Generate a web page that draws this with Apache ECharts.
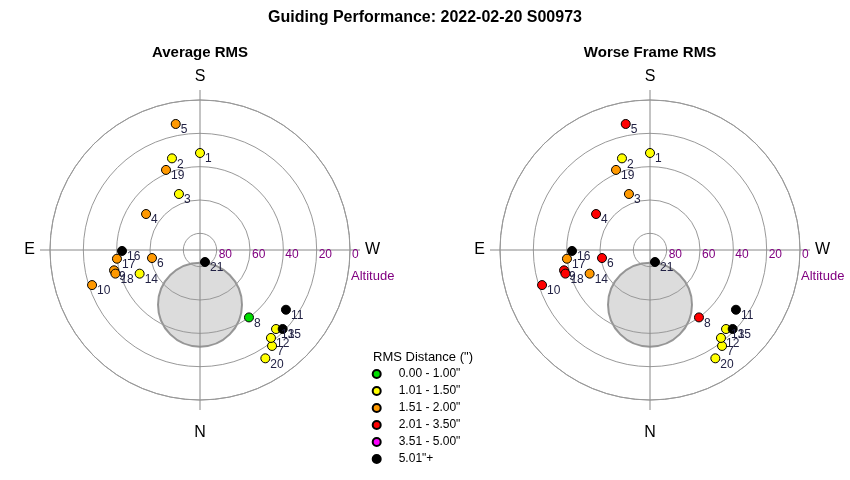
<!DOCTYPE html>
<html>
<head>
<meta charset="utf-8">
<script src="https://cdn.jsdelivr.net/npm/echarts@6/dist/echarts.min.js"></script>
<style>
html,body{margin:0;padding:0;background:#fff;}
#chart{width:850px;height:480px;}
</style>
</head>
<body>
<div id="chart"></div>
<script>
// ---- data ----
const frameIds = [1,2,3,4,5,6,7,8,9,10,11,12,13,14,15,16,17,18,19,20,21];
const altitude = [31.8,32.5,54.1,51.1,13.0,60.8,18.0,40.0,37.0,21.9,27.2,22.2,24.2,51.1,21.4,43.2,39.9,37.3,37.8,14.1,82.2];
const azimuth  = [180.0,163.0,159.4,123.7,169.1,80.5,323.1,324.0,76.7,72.0,304.8,321.1,316.1,68.6,313.7,89.3,84.0,74.4,157.0,328.9,337.4];
// RMS class index per frame (0..5) for each panel
const avgRmsClass   = [1,1,1,2,2,2,1,0,2,2,5,1,1,1,5,5,2,2,2,1,5];
const worstRmsClass = [1,1,2,3,3,3,1,3,3,3,5,1,1,2,5,5,2,3,2,1,5];
const rmsLabels = ['0.00 - 1.00"','1.01 - 1.50"','1.51 - 2.00"','2.01 - 3.50"','3.51 - 5.00"','5.01"+'];
const rmsColors = ['#00dd00','#ffff00','#ff9900','#ff0000','#ff00ff','#000000'];
const panelTitles = ['Average RMS','Worse Frame RMS'];
const altitudeTicks = [0,20,40,60,80];
const compass = {0:'W',90:'N',180:'E',270:'S'};
// shaded exclusion disc (altitude / azimuth of its centre)
const discAlt = 57.2, discAz = 0;

// ---- build ----
const centers = [[200,250],[650,250]];
const toAngle = az => (az + 90) % 360;

const polar = [], angleAxis = [], radiusAxis = [], series = [];
centers.forEach((c, p) => {
  polar.push({center: c, radius: 150});
  angleAxis.push({
    polarIndex: p, type: 'value', min: 0, max: 360, interval: 90,
    startAngle: 0, clockwise: true,
    axisLine: {show: true, lineStyle: {color: '#999', width: 1}},
    axisTick: {show: true, length: 10, inside: false, lineStyle: {color: '#888'}},
    splitLine: {show: true, lineStyle: {color: '#888', width: 1}},
    axisLabel: {
      show: true, margin: 15, fontSize: 16, color: '#000', fontFamily: 'Liberation Sans',
      formatter: v => v === 90 ? '{n|N}' : (v === 360 ? '' : (compass[v] || '')),
      rich: {n: {fontSize: 16, color: '#000', fontFamily: 'Liberation Sans', lineHeight: 36}}
    }
  });
  radiusAxis.push({
    polarIndex: p, type: 'value', min: 0, max: 90, interval: 20, inverse: true,
    axisLine: {show: false}, axisTick: {show: false},
    splitLine: {show: true, lineStyle: {color: '#999', width: 1}},
    axisLabel: {
      show: true, inside: true, margin: 1, align: 'left', verticalAlign: 'top',
      padding: [0,0,0,2], fontSize: 12, color: '#800080', fontFamily: 'Liberation Sans',
      formatter: v => altitudeTicks.indexOf(v) >= 0 ? String(v) : ''
    }
  });
  series.push({
    type: 'scatter', coordinateSystem: 'polar', polarIndex: p, z: -1, silent: true,
    symbol: 'circle', symbolSize: 84,
    itemStyle: {color: '#d3d3d3', borderColor: '#808080', borderWidth: 2},
    data: [[discAlt, toAngle(discAz)]]
  });
  const cls = p === 0 ? avgRmsClass : worstRmsClass;
  rmsLabels.forEach((name, k) => {
    const data = [];
    frameIds.forEach((id, i) => {
      if (cls[i] === k) data.push({name: String(id), value: [altitude[i], toAngle(azimuth[i])]});
    });
    series.push({
      type: 'scatter', name: name, coordinateSystem: 'polar', polarIndex: p,
      symbol: 'circle', symbolSize: 9,
      itemStyle: {color: rmsColors[k], borderColor: '#000', borderWidth: 1, opacity: 1},
      label: {show: true, formatter: '{b}', position: [10, 5], fontSize: 12,
              color: '#222244', fontFamily: 'Liberation Sans'},
      emphasis: {disabled: true},
      data: data
    });
  });
});

const titleFont = {fontFamily: 'Liberation Sans', color: '#000'};
const option = {
  animation: false,
  backgroundColor: '#fff',
  title: [
    {text: 'Guiding Performance: 2022-02-20 S00973', left: 425, textAlign: 'center', top: 10, padding: 0,
     textStyle: Object.assign({fontSize: 16, fontWeight: 'bold'}, titleFont)},
    {text: panelTitles[0], left: 200, textAlign: 'center', top: 45, padding: 0,
     textStyle: Object.assign({fontSize: 15, fontWeight: 'bold'}, titleFont)},
    {text: panelTitles[1], left: 650, textAlign: 'center', top: 45, padding: 0,
     textStyle: Object.assign({fontSize: 15, fontWeight: 'bold'}, titleFont)},
    {text: 'RMS Distance (")', left: 373, top: 351, padding: 0,
     textStyle: Object.assign({fontSize: 13, fontWeight: 'normal'}, titleFont)},
    {text: 'Altitude', left: 351, top: 270, padding: 0,
     textStyle: {fontSize: 13, fontWeight: 'normal', color: '#800080', fontFamily: 'Liberation Sans'}},
    {text: 'Altitude', left: 801, top: 270, padding: 0,
     textStyle: {fontSize: 13, fontWeight: 'normal', color: '#800080', fontFamily: 'Liberation Sans'}}
  ],
  legend: {
    data: rmsLabels, orient: 'vertical', left: 371.7, top: 368, padding: 0,
    itemWidth: 8, itemHeight: 8, itemGap: 5, icon: 'circle', selectedMode: false,
    textStyle: {fontSize: 12, color: '#000', lineHeight: 12, padding: [0,0,0,13], fontFamily: 'Liberation Sans'}
  },
  polar: polar,
  angleAxis: angleAxis,
  radiusAxis: radiusAxis,
  series: series
};
const chart = echarts.init(document.getElementById('chart'), null, {renderer: 'canvas'});
chart.setOption(option);
</script>
</body>
</html>
